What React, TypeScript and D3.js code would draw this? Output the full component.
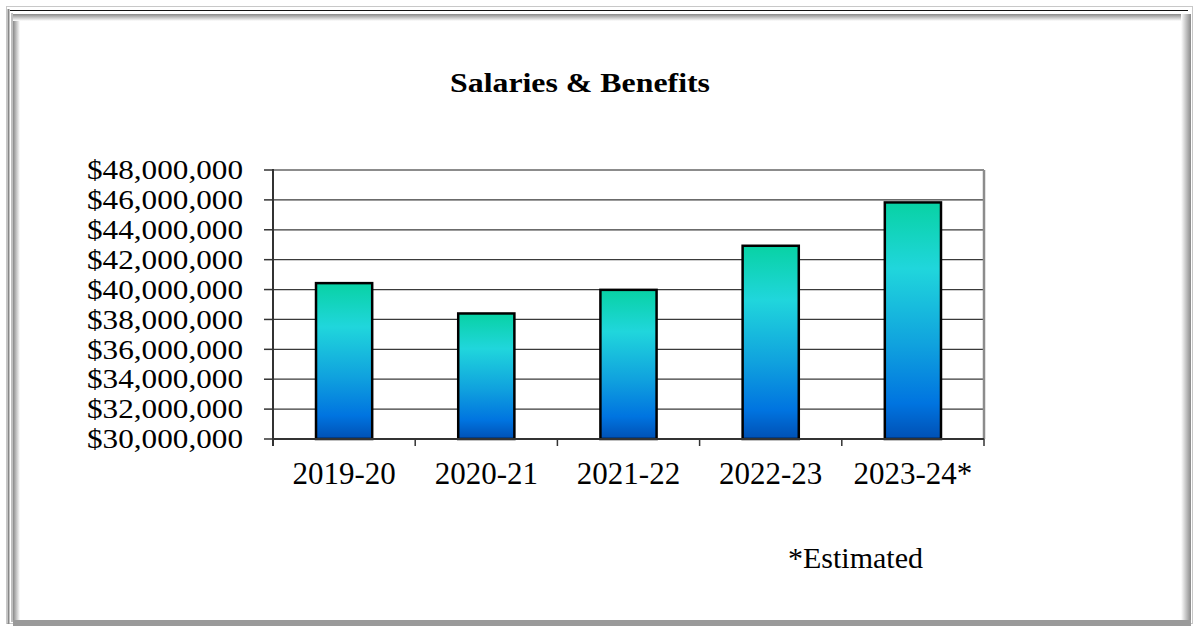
import React from "react";
import * as d3 from "d3";

const categories = ["2019-20", "2020-21", "2021-22", "2022-23", "2023-24*"];
const values = [40430000, 38400000, 39980000, 42930000, 45830000];
const yTicks = [30e6, 32e6, 34e6, 36e6, 38e6, 40e6, 42e6, 44e6, 46e6, 48e6];
const title = "Salaries & Benefits";
const note = "*Estimated";

const W = 1194;
const H = 626;
const PL = 273;
const PR = 984;
const PT = 170;
const PB = 439;
const serif = "'Liberation Serif', 'Times New Roman', serif";

export default function App() {
  const x = d3.scaleBand<string>().domain(categories).range([PL, PR]).padding(0);
  const y = d3.scaleLinear().domain([30e6, 48e6]).range([PB, PT]);
  const fmt = (v: number) => "$" + d3.format(",")(v);
  const bw = x.bandwidth() * 0.395;
  const boundaries = [...categories.map((c) => x(c) as number), PR];

  return (
    <svg
      width={W}
      height={H}
      style={{ position: "absolute", left: 0, top: 0, background: "#fff" }}
    >
      <defs>
        <linearGradient id="barGrad" x1="0" y1="0" x2="0" y2="1">
          <stop offset="0" stopColor="#08d2a4" />
          <stop offset="0.28" stopColor="#20d6dc" />
          <stop offset="0.6" stopColor="#10a2de" />
          <stop offset="0.85" stopColor="#0074e0" />
          <stop offset="1" stopColor="#0050b4" />
        </linearGradient>
        <linearGradient id="shTop" x1="0" y1="0" x2="0" y2="1">
          <stop offset="0" stopColor="#8a8a8a" />
          <stop offset="1" stopColor="#ffffff" />
        </linearGradient>
        <linearGradient id="shLeft" x1="0" y1="0" x2="1" y2="0">
          <stop offset="0" stopColor="#8a8a8a" />
          <stop offset="1" stopColor="#ffffff" />
        </linearGradient>
        <linearGradient id="shRight" x1="0" y1="0" x2="1" y2="0">
          <stop offset="0" stopColor="#ffffff" />
          <stop offset="1" stopColor="#8a8a8a" />
        </linearGradient>
      </defs>
      <rect x={0} y={0} width={W} height={H} fill="#fff" />
      {/* frame */}
      <rect x={6.5} y={6.5} width={1186} height={617} fill="none" stroke="#c8c8c8" strokeWidth={1} />
      <line x1={10} y1={10.5} x2={1188} y2={10.5} stroke="#111" strokeWidth={1} />
      <line x1={8.5} y1={9} x2={8.5} y2={624} stroke="#888" strokeWidth={2} />
      <rect x={13} y={14} width={7} height={608} fill="url(#shLeft)" />
      <rect x={13} y={14} width={1170} height={7} fill="url(#shTop)" />
      <rect x={1181} y={14} width={10} height={608} fill="url(#shRight)" />
      <rect x={13} y={620} width={1178} height={6} fill="#9a9a9a" />
      <line x1={12} y1={13} x2={12} y2={622} stroke="#aaa" strokeWidth={1.5} />

      {/* title */}
      <text
        x={580}
        y={92}
        textAnchor="middle"
        fontFamily={serif}
        fontWeight="bold"
        fontSize={28}
        textLength={260}
        lengthAdjust="spacingAndGlyphs"
        fill="#000"
      >
        {title}
      </text>

      {/* gridlines */}
      {yTicks.map((t) => (
        <line
          key={"g" + t}
          x1={PL}
          x2={PR}
          y1={y(t)}
          y2={y(t)}
          stroke={t === 48e6 ? "#8c8c8c" : "#3a3a3a"}
          strokeWidth={t === 48e6 ? 2 : 1.3}
        />
      ))}
      <line x1={PR} x2={PR} y1={PT} y2={PB} stroke="#8c8c8c" strokeWidth={2.5} />

      {/* bars */}
      {categories.map((c, i) => {
        const cx = (x(c) as number) + x.bandwidth() / 2;
        return (
          <rect
            key={c}
            x={cx - bw / 2}
            y={y(values[i])}
            width={bw}
            height={PB - y(values[i])}
            fill="url(#barGrad)"
            stroke="#000"
            strokeWidth={2.5}
          />
        );
      })}

      {/* axes */}
      <line x1={PL} x2={PL} y1={PT - 1} y2={PB + 7} stroke="#333" strokeWidth={2} />
      <line x1={PL} x2={PR} y1={PB} y2={PB} stroke="#333" strokeWidth={2} />
      {yTicks.map((t) => (
        <line key={"t" + t} x1={PL - 9} x2={PL} y1={y(t)} y2={y(t)} stroke="#333" strokeWidth={1.5} />
      ))}
      {boundaries.map((b, i) => (
        <line key={"b" + i} x1={b} x2={b} y1={PB} y2={PB + 7} stroke="#333" strokeWidth={1.5} />
      ))}

      {/* y labels */}
      {yTicks.map((t) => (
        <text
          key={"l" + t}
          x={243}
          y={y(t)}
          dy="0.34em"
          textAnchor="end"
          fontFamily={serif}
          fontSize={27}
          textLength={156}
          lengthAdjust="spacingAndGlyphs"
          fill="#000"
        >
          {fmt(t)}
        </text>
      ))}

      {/* x labels */}
      {categories.map((c) => (
        <text
          key={"x" + c}
          x={(x(c) as number) + x.bandwidth() / 2}
          y={484}
          textAnchor="middle"
          fontFamily={serif}
          fontSize={31}
          fill="#000"
        >
          {c}
        </text>
      ))}

      <text x={788} y={568} fontFamily={serif} fontSize={30} fill="#000">
        {note}
      </text>
    </svg>
  );
}
